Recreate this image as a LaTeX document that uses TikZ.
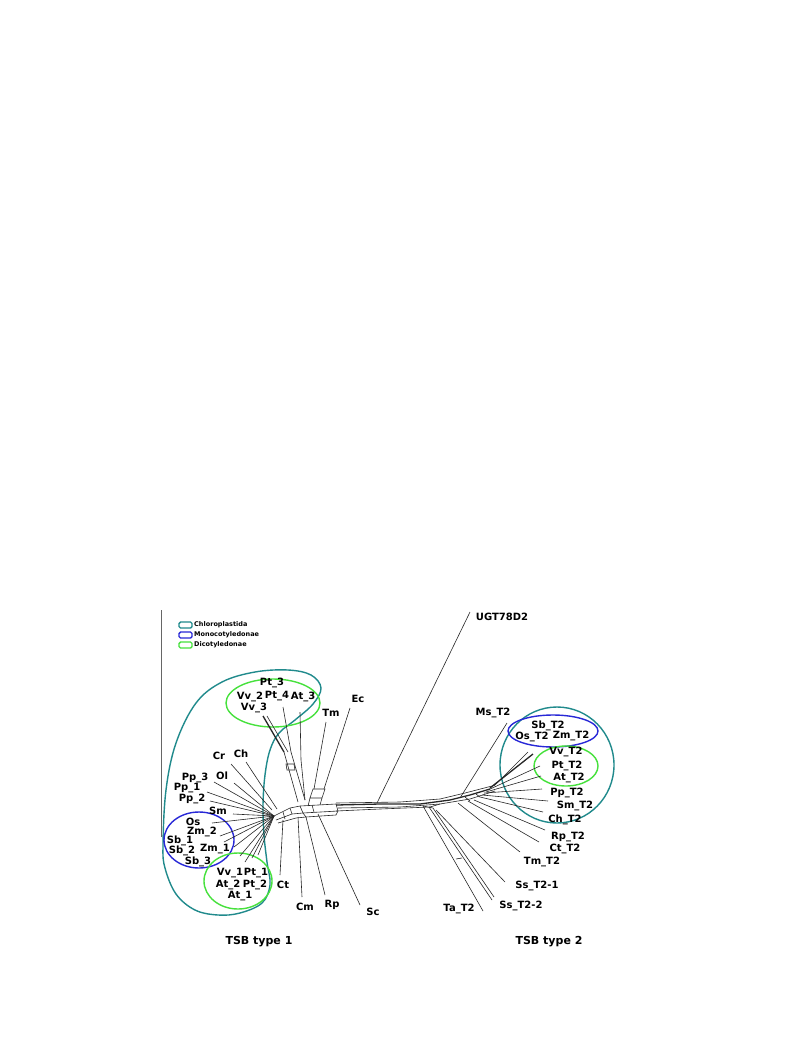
\documentclass[tikz,border=0pt]{standalone}
\usepackage{fontspec}
\setmainfont{DejaVu Sans}
\definecolor{cteal}{RGB}{32,138,140}
\definecolor{cblue}{RGB}{40,40,215}
\definecolor{cgreen}{RGB}{70,225,60}
\begin{document}
\begin{tikzpicture}[x=1pt,y=-1pt,
  lab/.style={font=\bfseries\fontsize{10}{11}\selectfont, inner sep=0pt},
  big/.style={font=\bfseries\fontsize{11}{13}\selectfont, inner sep=0pt},
  leg/.style={font=\bfseries\fontsize{6.5}{8}\selectfont, inner sep=0pt, anchor=west},
  br/.style={line width=0.6pt, black!85},
  thk/.style={line width=1.3pt, black!85},
  grp/.style={line width=1.4pt}]
\useasboundingbox (0,0) rectangle (793,1057);
\fill[white] (0,0) rectangle (793,1057);

% stray axis line
\coordinate (axT) at (161,610); \coordinate (axB) at (161,837);
\draw[black!60, line width=0.8pt] (axT) -- (axB);

% legend
\draw[cteal, grp, rounded corners=1.5pt] (179,622) rectangle (192,628);
\draw[cblue, grp, rounded corners=1.5pt] (179,632) rectangle (192,638);
\draw[cgreen, grp, rounded corners=1.5pt] (179,642) rectangle (192,648);
\node[leg] (lg1) at (194,625) {Chloroplastida};
\node[leg] (lg2) at (194,635) {Monocotyledonae};
\node[leg] (lg3) at (194,645) {Dicotyledonae};

% group outlines
\draw[cteal, grp] plot[smooth cycle, tension=0.6] coordinates {
 (163,845) (166,790) (176,743) (196,703) (222,682) (255,672) (288,670) (311,675)
 (321,688) (313,704) (295,720) (279,733) (270,750) (265,775) (263,805) (264,835)
 (267,862) (270,885) (262,903) (240,913) (218,915) (195,910) (176,894) (165,868)};
\draw[cgreen, grp] (273,703) ellipse [x radius=47, y radius=24];
\draw[cblue, grp] (199,840) ellipse [x radius=35, y radius=28];
\draw[cgreen, grp] (238,881) ellipse [x radius=34, y radius=28];
\draw[cteal, grp] (557,765) ellipse [x radius=57, y radius=58];
\draw[cblue, grp] (553,731) ellipse [x radius=45, y radius=16];
\draw[cgreen, grp] (566,766) ellipse [x radius=32, y radius=20];

% ---------- labels type 1
\node[lab] (Pt3) at (272,683) {Pt\_3};
\node[lab] (Vv2) at (250,697) {Vv\_2};
\node[lab] (Pt4) at (277,696) {Pt\_4};
\node[lab] (At3) at (303,697) {At\_3};
\node[lab] (Vv3) at (254,708) {Vv\_3};
\node[lab] (Tm) at (331,713) {Tm};
\node[lab] (Ec) at (358,699) {Ec};
\node[lab] (Cr) at (219,756) {Cr};
\node[lab] (Ch) at (241,754) {Ch};
\node[lab] (Pp3) at (195,777.5) {Pp\_3};
\node[lab] (Ol) at (222,776) {Ol};
\node[lab] (Pp1) at (187,788) {Pp\_1};
\node[lab] (Pp2) at (192,798.5) {Pp\_2};
\node[lab] (Sm) at (218,811) {Sm};
\node[lab] (Os) at (193,822) {Os};
\node[lab] (Zm2) at (202,832) {Zm\_2};
\node[lab] (Sb1) at (180,840.5) {Sb\_1};
\node[lab] (Sb2) at (182,851) {Sb\_2};
\node[lab] (Zm1) at (215,849) {Zm\_1};
\node[lab] (Sb3) at (198,862) {Sb\_3};
\node[lab] (Vv1) at (230,873) {Vv\_1};
\node[lab] (Pt1) at (256,873) {Pt\_1};
\node[lab] (At2) at (228,885) {At\_2};
\node[lab] (Pt2) at (255,885) {Pt\_2};
\node[lab] (At1) at (240,896) {At\_1};
\node[lab] (Ct) at (283,885) {Ct};
\node[lab] (Cm) at (305,907) {Cm};
\node[lab] (Rp) at (332,905) {Rp};
\node[lab] (Sc) at (373,912) {Sc};
\node[big] (T1) at (259,942) {TSB type 1};

% ---------- labels type 2
\node[lab] (UGT) at (502,617) {UGT78D2};
\node[lab] (MsT2) at (493,713) {Ms\_T2};
\node[lab] (SbT2) at (548,726) {Sb\_T2};
\node[lab] (OsT2) at (532,737) {Os\_T2};
\node[lab] (ZmT2) at (571,736) {Zm\_T2};
\node[lab] (VvT2) at (566,752) {Vv\_T2};
\node[lab] (PtT2) at (567,766) {Pt\_T2};
\node[lab] (AtT2) at (569,778) {At\_T2};
\node[lab] (PpT2) at (567,793) {Pp\_T2};
\node[lab] (SmT2) at (575,806) {Sm\_T2};
\node[lab] (ChT2) at (565,820) {Ch\_T2};
\node[lab] (RpT2) at (568,837) {Rp\_T2};
\node[lab] (CtT2) at (565,849) {Ct\_T2};
\node[lab] (TmT2) at (542,862) {Tm\_T2};
\node[lab] (Ss1) at (537,886) {Ss\_T2-1};
\node[lab] (Ss2) at (521,906) {Ss\_T2-2};
\node[lab] (TaT2) at (459,909) {Ta\_T2};
\node[big] (T2) at (549,942) {TSB type 2};

% ---------- network, type 1 side
% left fan
\foreach \a/\b in {234/783, 214/782, 207/792, 210/801, 233/814,
  212/823, 220/836, 224/842, 234/847, 240/856, 245/862, 252/858, 258/855}{
  \draw[br] (\a,\b) -- (274,816);
}
\draw[br] (231,764) -- (272,810);
\draw[br] (246,762) -- (277,809);
% vertical strip to At_3 / Pt_4 / Vv_3
\draw[thk] (263,716) -- (284,752);
\draw[br] (267,716) -- (288,752);
\draw[br] (283,707) -- (291,752);
\draw[br] (300,712) -- (301,760) -- (305,800);
\draw[br] (284,752) -- (298,802);
\draw[br] (291,752) -- (305,800);
\draw[br] (286,764) -- (294,764) -- (295,770) -- (287,770) -- cycle;
% Tm / Ec strip
\draw[br] (326,722) -- (314,789);
\draw[br] (350,708) -- (324,789);
\draw[br] (313,789) -- (325,789) -- (322,798) -- (310,798) -- cycle;
\draw[br] (310,798) -- (308,806);
\draw[br] (322,798) -- (320,805);
% central mesh
\draw[br] (274,816) -- (290,808) -- (300,806) -- (336,804);
\draw[br] (276,820) -- (292,814) -- (303,813) -- (338,811);
\draw[br] (278,823) -- (296,818) -- (306,817) -- (336,815);
\draw[br] (290,808) -- (292,814);
\draw[br] (300,806) -- (303,813) -- (306,817);
\draw[br] (336,804) -- (338,811) -- (336,815);
\draw[br] (312,805) -- (314,812);
\draw[br] (283,812) -- (285,819);
% downward leaves
\draw[br] (280,875) -- (283,820);
\draw[br] (302,897) -- (298,817);
\draw[br] (325,895) -- (306,817);
\draw[br] (360,905) -- (318,814);
% UGT78D2
\draw[br] (470,612) -- (377,803);
% backbone
\draw[thk] (336,805) -- (380,804) -- (420,804) -- (450,800) -- (470,795) -- (490,789);
\draw[br] (336,803) -- (400,802) -- (440,799) -- (465,793) -- (492,786);
\draw[br] (338,808) -- (400,807) -- (440,804) -- (470,799) -- (495,791);
\draw[br] (336,811) -- (380,809) -- (430,807);

% ---------- network, type 2 side
\draw[br] (507,723) -- (460,798);
\draw[br] (423,806) -- (483,911);
\draw[br] (429,807) -- (492,900);
\draw[br] (433,808) -- (494,897);
\draw[br] (456,859) -- (462,858);
\draw[br] (423,806) -- (433,808);
\draw[br] (436,810) -- (505,882);
\draw[br] (430,807) -- (440,804);
\draw[br] (458,803) -- (520,852);
\draw[br] (468,801) -- (539,842);
\draw[br] (474,800) -- (545,830);
\draw[br] (480,797) -- (543,812);
\draw[br] (482,795) -- (548,801);
\draw[br] (484,793) -- (542,789);
\draw[br] (486,792) -- (541,776);
\draw[br] (488,790) -- (540,766);
\draw[thk] (490,788) -- (533,754);
\draw[br] (494,786) -- (528,752);
\draw[br] (465,797) -- (470,801);
\draw[br] (476,794) -- (480,797);
\end{tikzpicture}
\end{document}
